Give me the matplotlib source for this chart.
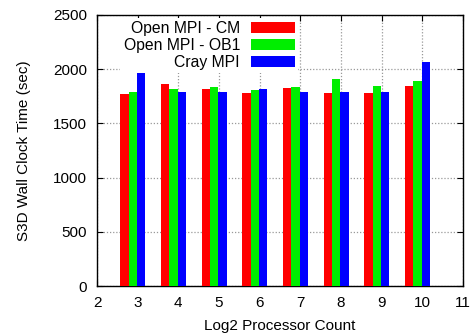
import numpy as np
import matplotlib.pyplot as plt

plt.rcParams['font.family'] = ['Liberation Sans', 'DejaVu Sans']

# log2 processor counts and wall clock times (sec)
procs = [3, 4, 5, 6, 7, 8, 9, 10]
ompi_cm = [1768, 1861, 1817, 1780, 1827, 1783, 1780, 1842]
ompi_ob1 = [1787, 1817, 1836, 1808, 1839, 1910, 1845, 1891]
cray_mpi = [1972, 1790, 1790, 1817, 1790, 1790, 1792, 2069]

series = [
    ("Open MPI - CM", ompi_cm, "#ff0000"),
    ("Open MPI - OB1", ompi_ob1, "#00ee00"),
    ("Cray MPI", cray_mpi, "#0000ff"),
]

W, H = 475, 335
fig = plt.figure(figsize=(W / 100, H / 100), dpi=100)
ax = fig.add_axes([97 / W, 1 - 286 / H, 366 / W, 271 / H])

x = np.array(procs, dtype=float)
width = 0.205
offsets = [-0.32, -0.115, 0.09]
for (label, vals, col), off in zip(series, offsets):
    ax.bar(x + off, vals, width=width, color=col, label=label, zorder=3, linewidth=0)

ax.set_xlim(2, 11)
ax.set_ylim(0, 2500)
ax.set_xticks(range(2, 12))
ax.set_yticks(range(0, 2501, 500))
ax.tick_params(direction='in', top=True, right=True, labelsize=11, length=4, pad=7)
ax.grid(True, linestyle=(0, (1, 1.5)), color='#999999', linewidth=0.9, zorder=0)
for s in ax.spines.values():
    s.set_linewidth(1.0)
ax.set_xlabel("Log2 Processor Count", fontsize=11, labelpad=6.5)
ax.set_ylabel("S3D Wall Clock Time (sec)", fontsize=11, labelpad=16)

leg = ax.legend(loc='upper right', bbox_to_anchor=(298 / W, 1 - 18 / H),
                bbox_transform=fig.transFigure, markerfirst=False,
                frameon=True, fontsize=11.3, handlelength=2.8, handleheight=0.65,
                labelspacing=0.12, borderpad=0.2, handletextpad=0.7,
                borderaxespad=0, fancybox=False, framealpha=1.0)
leg.get_frame().set_edgecolor('white')
leg.get_frame().set_linewidth(0)
leg.set_zorder(5)

fig.savefig("out.png", dpi=100)
